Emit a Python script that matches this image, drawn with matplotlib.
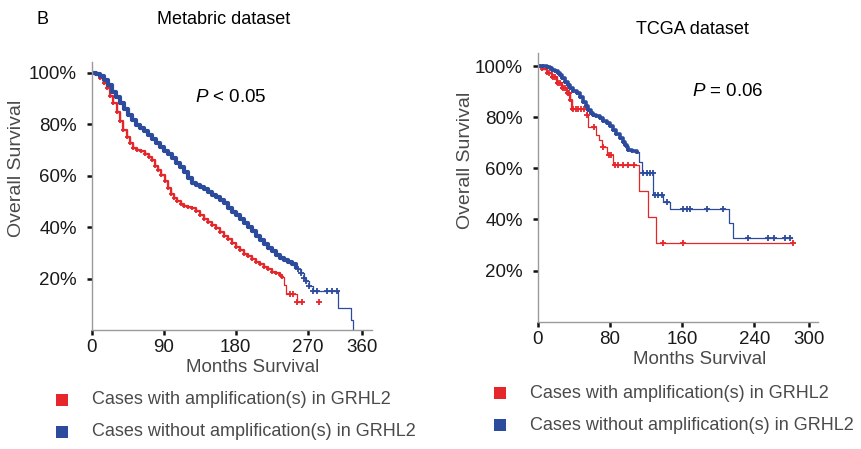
import matplotlib
matplotlib.use("Agg")
import matplotlib.pyplot as plt
from matplotlib.patches import Rectangle

plt.rcParams['font.family'] = ['Liberation Sans', 'DejaVu Sans']
plt.rcParams['mathtext.fontset'] = 'custom'
plt.rcParams['mathtext.rm'] = 'Liberation Sans'
plt.rcParams['mathtext.it'] = 'Liberation Sans:italic'

RED = '#e5262b'
BLUE = '#2d4b9c'

# ---- Metabric: months, % surviving ----
meta_amp_t = [0, 5, 10, 15, 19, 23, 27, 31, 35, 39, 44, 48, 52, 57, 62, 67, 71,
              75, 79, 83, 87, 91, 95, 99, 103, 107, 111, 115, 120, 125, 130,
              135, 140, 145, 150, 155, 160, 165, 170, 175, 180, 185, 190, 195,
              200, 205, 210, 215, 220, 225, 230, 235, 238, 240.4, 243,
              256, 262.5]
meta_amp_s = [100, 99.5, 98, 96, 93.9, 91, 88, 84.5, 81, 77.8, 75, 72.5, 70.6,
              70, 69.4, 68.2, 67.3, 66, 63.8, 62, 60.2, 58, 55, 52.7, 51.3, 50,
              49, 48.2, 47.6, 47.2, 46.3, 44.6, 43.3, 42, 40.8, 39.8, 38.2,
              36.6, 35.2, 33.6, 32.4, 31, 29.7, 28.6, 27.6, 26.6, 25.6, 24.6,
              23.6, 22.7, 22, 21.4, 20.4, 17.5, 13.9,
              10.8, 10.8]
meta_amp_dense = 53
meta_amp_cens_t = [248, 252, 256, 262.5, 284]
meta_amp_cens_s = [13.9, 13.9, 10.8, 10.8, 10.8]

meta_wt_t = [0, 5, 10, 15, 20, 25, 30, 35, 40, 45, 50, 55, 60, 65, 70, 75, 80,
             85, 90, 95, 100, 105, 110, 115, 120, 125, 130, 135, 140, 145, 150,
             155, 160, 165, 170, 175, 180, 185, 190, 195, 200, 205, 210, 215,
             220, 225, 230, 235, 240, 245, 250, 255, 258, 262, 265, 268, 272,
             277, 308.3, 323.75, 326.25]
meta_wt_s = [100, 99.6, 98.8, 97, 95, 92.6, 90.5, 88, 86, 83.5, 81.5, 79.8,
             78.3, 77.2, 75.8, 74.2, 72.6, 71, 69.6, 68.2, 66.8, 65, 63.3,
             61.2, 59, 57.2, 56.5, 55.6, 54.6, 53.6, 52.6, 51.6, 50.5, 49.3,
             47.3, 46, 44.8, 43.2, 41.6, 40, 38.3, 36.6, 35, 33.4, 31.8, 30.6,
             29.2, 28, 27.2, 26.4, 25.5, 24.4, 23.8, 22.2, 20.3, 19, 17.2,
             15.0, 8.4, 3.9, 0]
meta_wt_dense = 52
meta_wt_cens_t = [258, 262, 265, 268, 272, 277, 281, 294, 300, 306]
meta_wt_cens_s = [23.8, 22.2, 20.3, 19, 17.2, 15.0, 15.0, 15.0, 15.0, 15.0]

meta_ticks = [0, 90, 180, 270, 337.5]
meta_ticklabels = ['0', '90', '180', '270', '360']

# ---- TCGA ----
tcga_amp_t = [0, 5, 10, 15.5, 21, 26.5, 32, 35.7, 37.6, 54.2, 56, 64.5, 68.2,
              71.1, 76.3, 83.6, 112.4, 122.3, 130.9, 282.5]
tcga_amp_s = [100, 99, 97.2, 95.9, 93.3, 91.3, 89.4, 86.8, 83.2, 80.9, 76.1,
              73.1, 71.1, 68.3, 65.2, 61.3, 51.3, 40.9, 30.7, 30.7]
tcga_amp_dense = 9
tcga_amp_cens_t = [12, 17, 19, 23, 25, 28, 30, 33, 34.5, 39.4, 42, 44.9, 48,
                   51.2, 54.2, 62.3, 72.5, 78.5, 81, 86, 89.2, 94.7, 100.2,
                   106.5, 138.3, 161, 282.5]
tcga_amp_cens_s = [97.2, 95.9, 95.9, 93.3, 93.3, 91.3, 91.3, 89.4, 89.4, 83.2,
                   83.2, 83.2, 83.2, 83.2, 80.9, 76.1, 68.3, 65.2, 65.2, 61.3,
                   61.3, 61.3, 61.3, 61.3, 30.7, 30.7, 30.7]

tcga_wt_t = [0, 3, 6.2, 10, 13.6, 16, 19.1, 22, 24.7, 27, 30.2, 33, 35.7, 39,
             43.1, 47, 50.4, 53, 56, 59, 61.5, 65, 68.9, 72, 76.3, 80, 83.6,
             87, 91, 94, 96.6, 98.5, 100.2, 104, 109.5,
             112, 115, 127.9, 138.9, 146.3, 212, 216.4, 281]
tcga_wt_s = [100, 100, 100, 99.6, 99.2, 98.6, 97.9, 97.2, 96.6, 95.3, 93.9,
             92.6, 91.4, 90.4, 89.4, 87.8, 86.1, 84.5, 82.9, 81.8, 80.9, 80.3,
             79.6, 78.7, 77.7, 76.4, 75, 73.4, 71.8, 70.3, 69.2, 68.3, 67.2,
             66.8, 66.3,
             62.6, 58.1, 49.6, 47, 44.0, 38.5, 32.8, 32.8]
tcga_wt_dense = 35
tcga_wt_cens_t = [116.8, 120.6, 124.2, 127.2, 129.8, 133.4, 137.2, 142.7,
                  160.4, 165.5, 168.5, 187.6, 205.3,
                  232.6, 255, 261.8, 274.3, 279.8]
tcga_wt_cens_s = [58.1, 58.1, 58.1, 58.1, 49.6, 49.6, 49.6, 47.0,
                  44.0, 44.0, 44.0, 44.0, 44.0,
                  32.8, 32.8, 32.8, 32.8, 32.8]

tcga_ticks = [0, 80, 160, 240, 300]
tcga_ticklabels = ['0', '80', '160', '240', '300']

pct_ticks = [20, 40, 60, 80, 100]
pct_labels = ['20%', '40%', '60%', '80%', '100%']

legend_labels = ['Cases with amplification(s) in GRHL2',
                 'Cases without amplification(s) in GRHL2']

W, H = 861, 449


def fx(px):
    return px / W


def fy(py):
    return 1 - py / H


def km(ax, t, s, color, dense, cens_t, cens_s, thick):
    # thin step line for the whole curve, heavier where censoring is dense
    ax.plot(t, s, drawstyle='steps-post', color=color, lw=0.9)
    if dense:
        ax.plot(t[:dense], s[:dense], drawstyle='steps-post', color=color,
                lw=thick, marker='+', ms=3.5, mew=1.3,
                solid_joinstyle='round')
    ax.plot(cens_t, cens_s, ls='none', color=color, marker='+', ms=3.8,
            mew=1.3)


def style_axes(ax, xmax, ymax, ticks, labels):
    ax.set_xlim(0, xmax)
    ax.set_ylim(0, ymax)
    for side in ['top', 'right']:
        ax.spines[side].set_visible(False)
    for side in ['left', 'bottom']:
        ax.spines[side].set_color('#9a9a9a')
        ax.spines[side].set_linewidth(1.0)
    ax.set_xticks(ticks)
    ax.set_xticklabels(labels)
    ax.set_yticks(pct_ticks)
    ax.set_yticklabels(pct_labels)
    ax.tick_params(axis='both', direction='out', length=3.5, width=1.8,
                   color='#111111', labelsize=13.5, labelcolor='#1a1a1a')
    ax.tick_params(axis='x', pad=3)
    ax.tick_params(axis='y', pad=7)


fig = plt.figure(figsize=(W / 100, H / 100), dpi=100)

ax1 = fig.add_axes([fx(91.7), fy(330), fx(371.7) - fx(91.7),
                    fy(61.7) - fy(330)])
km(ax1, meta_amp_t, meta_amp_s, RED, meta_amp_dense,
   meta_amp_cens_t, meta_amp_cens_s, 1.6)
km(ax1, meta_wt_t, meta_wt_s, BLUE, meta_wt_dense,
   meta_wt_cens_t, meta_wt_cens_s, 3.0)
style_axes(ax1, 350, 104.2, meta_ticks, meta_ticklabels)

ax2 = fig.add_axes([fx(537.7), fy(321.7), fx(817.7) - fx(537.7),
                    fy(53.3) - fy(321.7)])
km(ax2, tcga_amp_t, tcga_amp_s, RED, tcga_amp_dense,
   tcga_amp_cens_t, tcga_amp_cens_s, 1.6)
km(ax2, tcga_wt_t, tcga_wt_s, BLUE, tcga_wt_dense,
   tcga_wt_cens_t, tcga_wt_cens_s, 2.6)
style_axes(ax2, 310, 105, tcga_ticks, tcga_ticklabels)

# titles and labels
fig.text(fx(37), fy(20), 'B', fontsize=13, va='center', ha='left')
fig.text(fx(224), fy(20), 'Metabric dataset', fontsize=13, va='center',
         ha='center')
fig.text(fx(692), fy(30), 'TCGA dataset', fontsize=13, va='center',
         ha='center')
fig.text(fx(195), fy(98), r'$P$ < 0.05', fontsize=13.5, va='center')
fig.text(fx(692), fy(92), r'$P$ = 0.06', fontsize=13.5, va='center')

grey = '#4a4a4a'
fig.text(fx(253), fy(368), 'Months Survival', fontsize=13.5, color=grey,
         ha='center', va='center')
fig.text(fx(700), fy(359), 'Months Survival', fontsize=13.5, color=grey,
         ha='center', va='center')
fig.text(fx(17), fy(168), 'Overall Survival', fontsize=14, color=grey,
         ha='center', va='center', rotation=90)
fig.text(fx(465), fy(160), 'Overall Survival', fontsize=14, color=grey,
         ha='center', va='center', rotation=90)

# legends
for sq_x, txt_x, ys in [(56, 91.7, (400, 432)), (494, 530, (393, 425))]:
    for y, col, lab in zip(ys, [RED, BLUE], legend_labels):
        fig.add_artist(Rectangle((fx(sq_x), fy(y + 6)), 12 / W, 12 / H,
                                 transform=fig.transFigure, color=col,
                                 lw=0))
        fig.text(fx(txt_x), fy(y), lab, fontsize=13, color=grey,
                 va='center', ha='left')

fig.savefig('out.png', dpi=100)
